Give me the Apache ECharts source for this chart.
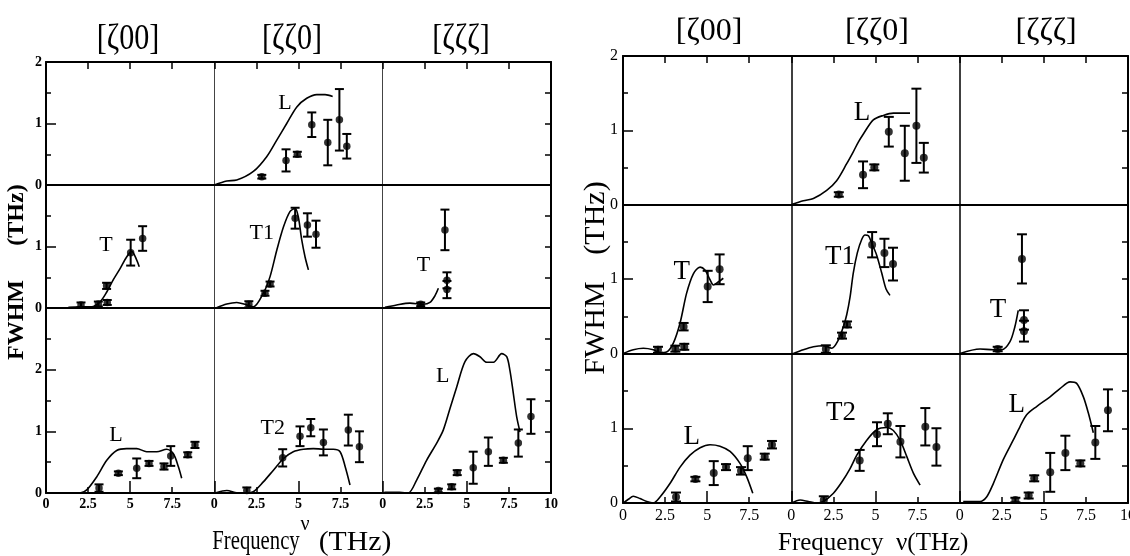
<!DOCTYPE html>
<html><head><meta charset="utf-8">
<script src="https://cdn.jsdelivr.net/npm/echarts@6.0.0/dist/echarts.min.js"></script>
<style>html,body{margin:0;padding:0;background:#fff}#c{width:1130px;height:556px}</style>
</head><body><div id="c"></div>
<script>
// ---------------- DATA ----------------
const columnTitles = ['[ζ00]', '[ζζ0]', '[ζζζ]'];
const xTickLabels = ['0', '2.5', '5', '7.5', '10'];

// measured points: [frequency (THz), FWHM (THz), error (THz)]
const pts_110_L  = [[2.82,0.135,0.03],[4.26,0.40,0.18],[4.93,0.50,0.04],[5.79,0.98,0.20],[6.74,0.69,0.37],[7.43,1.06,0.50],[7.87,0.63,0.20]];
const pts_100_T  = [[2.08,0.05,0.04],[3.11,0.065,0.04],[3.64,0.09,0.04],[3.60,0.36,0.05],[5.03,0.90,0.21],[5.74,1.13,0.20]];
const pts_110_T1 = [[2.05,0.06,0.05],[3.01,0.24,0.04],[3.31,0.39,0.04],[4.80,1.46,0.17],[5.53,1.35,0.19],[6.04,1.20,0.22]];
const pts_111_T  = [[2.26,0.06,0.03],[3.70,1.27,0.33],[3.82,0.45,0.13],[3.82,0.30,0.14]];
const pts_100_L  = [[3.15,0.08,0.06],[4.30,0.32,0.03],[5.39,0.40,0.16],[6.12,0.48,0.04],[7.01,0.43,0.05],[7.41,0.60,0.16],[8.42,0.62,0.04],[8.85,0.78,0.05]];
const pts_110_T2 = [[1.93,0.04,0.05],[4.06,0.57,0.14],[5.09,0.92,0.16],[5.73,1.06,0.14],[6.48,0.82,0.21],[7.96,1.02,0.25],[8.62,0.75,0.25]];
const pts_111_L  = [[3.31,0.04,0.03],[4.10,0.10,0.04],[4.43,0.33,0.04],[5.38,0.41,0.26],[6.28,0.67,0.23],[7.17,0.53,0.04],[8.06,0.81,0.22],[8.81,1.24,0.28]];

// calculated curves, left figure: [frequency, FWHM]
const A_110_L  = [[0,0],[0.74,0.065],[1.33,0.08],[2.32,0.22],[3.11,0.46],[3.71,0.73],[4.30,1.0],[4.90,1.27],[5.49,1.41],[6.09,1.47],[6.58,1.47],[7.03,1.44]];
const A_100_T  = [[1.33,0.01],[2.02,0.02],[2.71,0.02],[3.21,0.10],[3.61,0.26],[4.00,0.46],[4.40,0.64],[4.79,0.83],[5.09,0.92],[5.39,0.78],[5.54,0.67]];
const A_110_T1 = [[0.1,0],[0.74,0.065],[1.33,0.09],[1.93,0.05],[2.32,0.02],[2.91,0.24],[3.31,0.51],[3.71,0.94],[4.11,1.32],[4.50,1.57],[4.80,1.62],[4.99,1.48],[5.19,1.11],[5.39,0.83],[5.59,0.62]];
const A_111_T  = [[0.14,0.01],[0.83,0.05],[1.62,0.08],[2.42,0.06],[2.81,0.09],[3.11,0.20],[3.31,0.32]];
const A_100_L  = [[0,0.005],[1.23,0.005],[2.02,0],[2.42,0.05],[3.01,0.26],[3.61,0.53],[4.20,0.69],[4.79,0.72],[5.39,0.72],[5.98,0.67],[6.58,0.67],[7.17,0.71],[7.56,0.64],[7.86,0.43],[8.06,0.24]];
const A_110_T2 = [[0.1,0.005],[0.74,0.04],[1.33,0.005],[1.93,0],[2.32,0.02],[2.91,0.18],[3.51,0.37],[4.11,0.56],[4.69,0.67],[5.29,0.71],[5.88,0.72],[6.48,0.71],[7.07,0.71],[7.47,0.67],[7.77,0.43],[8.06,0.13]];
const A_111_L  = [[0.1,0.01],[1.0,0.01],[1.52,0],[2.02,0.21],[2.61,0.53],[3.21,0.81],[3.60,1.02],[4.00,1.37],[4.40,1.72],[4.89,2.13],[5.39,2.26],[5.78,2.21],[6.18,2.12],[6.58,2.12],[7.07,2.26],[7.37,2.21],[7.56,1.99],[7.76,1.62],[7.96,1.24],[8.16,0.99]];

// calculated curves, right figure
const B_110_L  = [[0.02,0],[0.71,0.05],[1.31,0.08],[2.10,0.19],[2.69,0.32],[3.29,0.55],[3.68,0.71],[3.98,0.84],[4.28,0.95],[4.87,1.14],[5.47,1.20],[6.06,1.23],[7.05,1.23]];
const B_100_T  = [[0.02,0],[0.61,0.05],[1.21,0.07],[1.80,0.05],[2.20,0.01],[2.59,0.02],[2.99,0.14],[3.39,0.41],[3.78,0.81],[4.18,1.07],[4.58,1.16],[4.87,1.12],[5.17,0.99],[5.37,0.92],[5.66,0.96],[5.96,1.01]];
const B_110_T1 = [[0.12,0],[0.71,0.05],[1.31,0.09],[1.90,0.105],[2.40,0.07],[2.79,0.18],[3.09,0.36],[3.29,0.52],[3.49,0.76],[3.68,1.08],[3.92,1.35],[4.18,1.53],[4.38,1.59],[4.58,1.58],[4.78,1.48],[5.07,1.32],[5.37,1.08],[5.62,0.87],[5.86,0.78]];
const B_111_T  = [[0.02,0],[1.21,0.06],[1.99,0.05],[2.49,0.05],[2.99,0.16],[3.28,0.36],[3.48,0.58]];
const B_100_L  = [[0.02,0],[0.32,0.05],[0.61,0.09],[1.01,0.06],[1.41,0.02],[1.80,0],[2.20,0.08],[2.79,0.26],[3.39,0.48],[3.98,0.64],[4.58,0.74],[5.17,0.78],[5.76,0.76],[6.36,0.69],[6.95,0.53],[7.35,0.35],[7.71,0.13]];
const B_110_T2 = [[0.02,0],[0.52,0.04],[1.01,0.02],[1.51,0],[1.90,0.02],[2.50,0.13],[3.00,0.28],[3.49,0.46],[3.89,0.64],[4.48,0.84],[5.07,0.98],[5.67,1.01],[6.06,0.97],[6.46,0.84],[6.86,0.62],[7.25,0.40],[7.65,0.24]];
const B_111_L  = [[0.21,0.02],[1.21,0.02],[1.60,0.08],[2.00,0.26],[2.59,0.58],[3.18,0.84],[3.58,1.02],[3.98,1.18],[4.57,1.29],[5.37,1.42],[5.96,1.53],[6.56,1.62],[6.95,1.60],[7.35,1.42],[7.65,1.20],[7.94,0.94]];

// branch labels: [frequency, FWHM, text]
const tagsA = {'110_L':[4.2,1.33,'L'],'100_T':[3.57,1.02,'T'],'110_T1':[2.82,1.22,'T1'],'111_T':[2.42,0.70,'T'],'100_L':[4.16,0.94,'L'],'110_T2':[3.47,1.05,'T2'],'111_L':[3.57,1.90,'L']};
const tagsB = {'110_L':[4.2,1.23,'L'],'100_T':[3.49,1.10,'T'],'110_T1':[2.89,1.30,'T1'],'111_T':[2.28,0.58,'T'],'100_L':[4.08,0.88,'L'],'110_T2':[2.95,1.20,'T2'],'111_L':[3.39,1.31,'L']};

// ---------------- BUILD ----------------
const points = {'110_L':pts_110_L,'100_T':pts_100_T,'110_T1':pts_110_T1,'111_T':pts_111_T,'100_L':pts_100_L,'110_T2':pts_110_T2,'111_L':pts_111_L};
const curvesA = {'110_L':A_110_L,'100_T':A_100_T,'110_T1':A_110_T1,'111_T':A_111_T,'100_L':A_100_L,'110_T2':A_110_T2,'111_L':A_111_L};
const curvesB = {'110_L':B_110_L,'100_T':B_100_T,'110_T1':B_110_T1,'111_T':B_111_T,'100_L':B_100_L,'110_T2':B_110_T2,'111_L':B_111_L};
const cellMap = [[null,'110_L',null],['100_T','110_T1','111_T'],['100_L','110_T2','111_L']];

const SERIF = '"Liberation Serif", "Times New Roman", serif';
const figs = [
  {left:46, colW:168.33, rows:[62,185,308,493], yMax:[2,2,3], lf:14, lw:'bold', lm:4, vLine:{color:'#444',width:1},
   curves:curvesA, tags:tagsA, tagFont:22, sym:7.5, cap:4.5},
  {left:623, colW:168.33, rows:[56,204.5,353.5,503], yMax:[2,2,2], lf:16, lw:'normal', lm:5, vLine:{color:'#000',width:1.5},
   curves:curvesB, tags:tagsB, tagFont:27, sym:8, cap:5}
];

function xLabel(v){ const i = Math.round(v/2.5); return xTickLabels[i] !== undefined ? xTickLabels[i] : String(v); }

const grid=[], xAxis=[], yAxis=[], series=[];
const black = {color:'#000', width:2};
figs.forEach(fig => {
  for (let r=0;r<3;r++) for (let c=0;c<3;c++){
    const g = grid.length;
    const top = fig.rows[r], h = fig.rows[r+1]-fig.rows[r];
    grid.push({left: fig.left + c*fig.colW, top: top, width: fig.colW, height: h, containLabel:false, outerBoundsMode:'none'});
    const xi = xAxis.length;
    xAxis.push({gridIndex:g, type:'value', min:0, max:10, interval:2.5, position:'bottom',
      axisLine:{show:true, onZero:false, lineStyle:black},
      axisTick:{show:r===2, inside:true, length:6, lineStyle:{color:'#000',width:1.5}},
      axisLabel:{show:r===2, showMinLabel:true, showMaxLabel:c===2, margin:fig.lm, color:'#000',
        fontFamily:SERIF, fontSize:fig.lf, fontWeight:fig.lw, formatter:xLabel, hideOverlap:false},
      splitLine:{show:false}});
    if (r===2) xAxis.push({gridIndex:g, type:'value', min:0, max:10, interval:5, position:'bottom',
      axisLine:{show:false}, axisTick:{show:true, inside:true, length:12, lineStyle:{color:'#000',width:1.5}},
      axisLabel:{show:false}, splitLine:{show:false}});
    if (r===0) xAxis.push({gridIndex:g, type:'value', min:0, max:10, interval:2.5, position:'top',
      axisLine:{show:true, onZero:false, lineStyle:black},
      axisTick:{show:true, inside:true, length:7, lineStyle:{color:'#000',width:1.5}},
      axisLabel:{show:false}, splitLine:{show:false}});
    const yi = yAxis.length;
    yAxis.push({gridIndex:g, type:'value', min:0, max:fig.yMax[r], interval:1, position:'left',
      axisLine:{show:true, onZero:false, lineStyle: c===0 ? black : fig.vLine},
      axisTick:{show:c===0, inside:true, length:10, lineStyle:{color:'#000',width:1.5}},
      minorTick:{show:c===0, splitNumber:2, length:5, lineStyle:{color:'#000',width:1.5}},
      axisLabel:{show:c===0, showMinLabel:true, showMaxLabel:r===0, margin:fig.lm, color:'#000',
        fontFamily:SERIF, fontSize:fig.lf, fontWeight:fig.lw},
      splitLine:{show:false}, minorSplitLine:{show:false}});
    if (c===2) yAxis.push({gridIndex:g, type:'value', min:0, max:fig.yMax[r], interval:0.5, position:'right',
      axisLine:{show:true, onZero:false, lineStyle:black},
      axisTick:{show:true, inside:true, length:6, lineStyle:{color:'#000',width:1.5}},
      axisLabel:{show:false}, splitLine:{show:false}});
    const key = cellMap[r][c];
    if (!key) continue;
    const pts = points[key];
    series.push({type:'line', xAxisIndex:xi, yAxisIndex:yi, data:fig.curves[key], showSymbol:false, smooth:0.3,
      lineStyle:{color:'#000', width:1.6}, silent:true, animation:false, z:3});
    const cap = fig.cap;
    series.push({type:'custom', xAxisIndex:xi, yAxisIndex:yi, animation:false, silent:true, z:4,
      data: pts.map(p => [p[0], Math.max(0, p[1]-p[2]), p[1]+p[2]]),
      renderItem:(params, api) => {
        const x = api.value(0);
        const a = api.coord([x, api.value(2)]), b = api.coord([x, api.value(1)]);
        const st = {stroke:'#000', lineWidth:2};
        return {type:'group', children:[
          {type:'line', shape:{x1:a[0],y1:a[1],x2:b[0],y2:b[1]}, style:st},
          {type:'line', shape:{x1:a[0]-cap,y1:a[1],x2:a[0]+cap,y2:a[1]}, style:st},
          {type:'line', shape:{x1:b[0]-cap,y1:b[1],x2:b[0]+cap,y2:b[1]}, style:st}
        ]};
      }});
    series.push({type:'scatter', xAxisIndex:xi, yAxisIndex:yi, data: pts.map(p => [p[0], p[1]]),
      symbol:'circle', symbolSize:fig.sym, itemStyle:{color:'#000'}, silent:true, animation:false, z:5});
    const t = fig.tags[key];
    series.push({type:'custom', xAxisIndex:xi, yAxisIndex:yi, animation:false, silent:true, z:6,
      data:[[t[0], t[1]]],
      renderItem:(params, api) => {
        const p = api.coord([api.value(0), api.value(1)]);
        return {type:'text', x:p[0], y:p[1], style:{text:t[2], fill:'#000', font: fig.tagFont + 'px ' + SERIF,
          textAlign:'center', textVerticalAlign:'middle', align:'center', verticalAlign:'middle'}};
      }});
  }
});

function txt(x, y, text, font, extra){
  return Object.assign({type:'text', x:x, y:y, silent:true,
    style:{text:text, font:font, fill:'#000', textAlign:'center', textVerticalAlign:'middle', align:'center', verticalAlign:'middle'}}, extra||{});
}
const graphic = [];
[128, 292, 461].forEach((x,i) => graphic.push(txt(x, 40, columnTitles[i], '35px ' + SERIF, {scaleX:0.86})));
[709, 877, 1046].forEach((x,i) => graphic.push(txt(x, 32, columnTitles[i], '32px ' + SERIF)));
graphic.push(txt(17, 320, 'FWHM', 'bold 24px ' + SERIF, {rotation:Math.PI/2}));
graphic.push(txt(17, 215, '(THz)', 'bold 24px ' + SERIF, {rotation:Math.PI/2}));
graphic.push(txt(596, 328, 'FWHM', '30px ' + SERIF, {rotation:Math.PI/2}));
graphic.push(txt(596, 218, '(THz)', '30px ' + SERIF, {rotation:Math.PI/2}));
graphic.push(txt(256, 542, 'Frequency', '28px ' + SERIF, {scaleX:0.74}));
graphic.push(txt(305, 525, 'ν', '20px ' + SERIF));
graphic.push(txt(355, 543, '(THz)', '27px ' + SERIF, {scaleX:1.1}));
graphic.push({type:'text', x:778, y:543, silent:true, style:{text:'Frequency  ν(THz)', font:'25px ' + SERIF, fill:'#000',
  textAlign:'left', textVerticalAlign:'middle', align:'left', verticalAlign:'middle'}});

const chart = echarts.init(document.getElementById('c'), null, {renderer:'canvas'});
chart.setOption({backgroundColor:'#fff', animation:false, grid, xAxis, yAxis, series, graphic});
</script></body></html>
